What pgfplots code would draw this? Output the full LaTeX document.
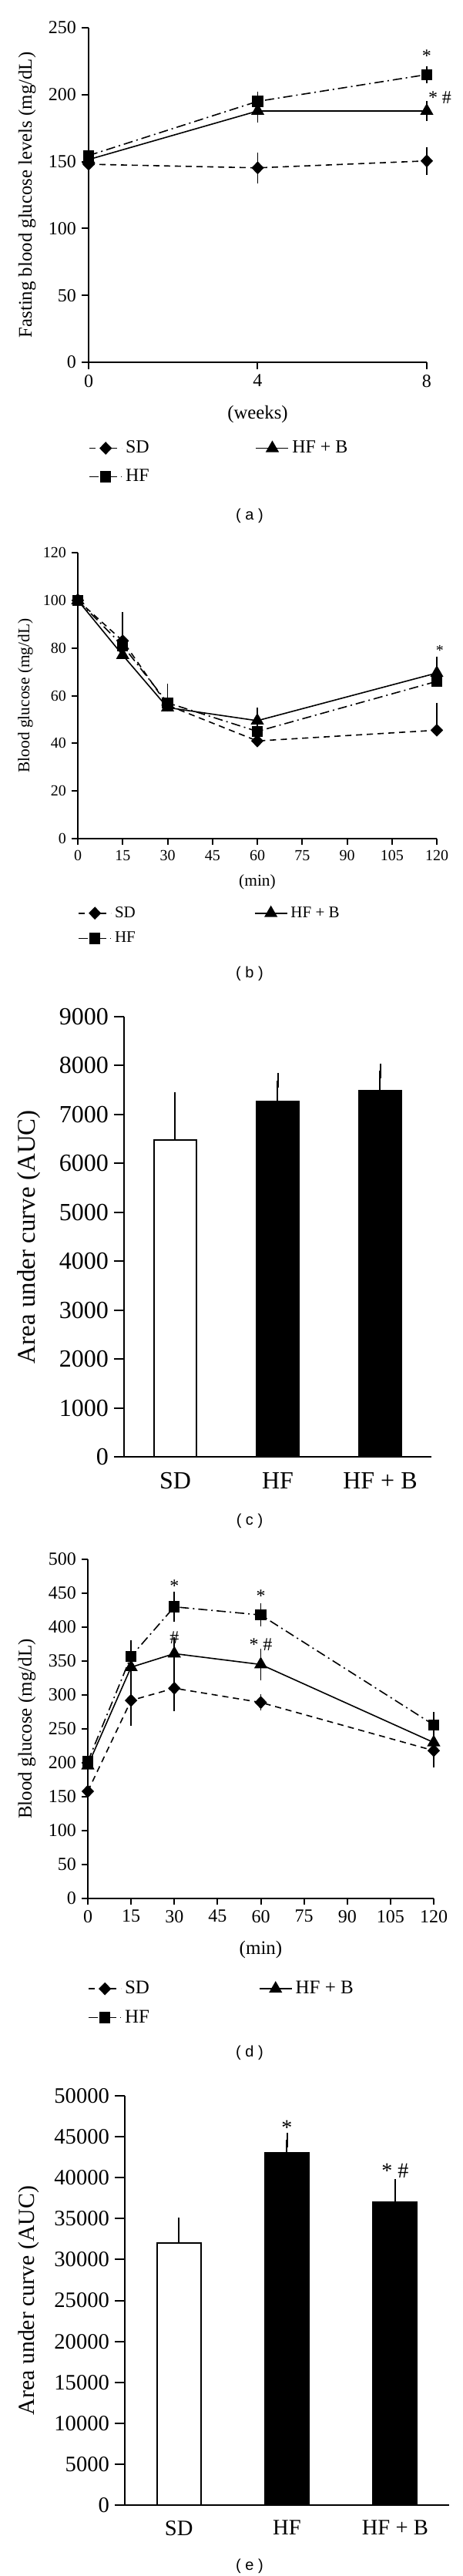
\documentclass[border=0pt]{standalone}
\usepackage{fontspec}
\setmainfont{Liberation Serif}
\newfontfamily\capfont{Liberation Sans}
\usepackage{pgfplots}
\pgfplotsset{compat=1.18}

% common look of the five panels (1 px of the reference = 0.5pt)
\newcommand\fs[1]{\fontsize{#1}{#1}\selectfont}
\pgfplotsset{
  panel/.style={
    scale only axis, anchor=south west,
    axis lines=left, axis line style={-, line width=1pt},
    enlargelimits=false, clip=false,
    tick align=outside, tick pos=left,
    major tick style={black, line width=1pt},
    /pgf/number format/assume math mode=true,
    /pgf/number format/1000 sep={},
    scaled y ticks=false,
    legend cell align=left,
    legend image code/.code={\draw[mark repeat=2, mark phase=2, ##1]
      plot coordinates {(0pt,0pt) (10.5pt,0pt) (21pt,0pt)};},
  },
  xlab/.style={every axis x label/.style={at={(axis description cs:0.5,#1)}, anchor=center}},
  ylab/.style={every axis y label/.style={at={(axis description cs:#1,0.5)}, anchor=center, rotate=90}},
  sd/.style={black, line width=0.8pt, dash pattern=on 4pt off 3pt,
    mark=diamond*, mark size=3.6pt, mark options={solid, xscale=1.3}},
  hf/.style={black, line width=0.8pt, dash pattern=on 6pt off 2.5pt on 1pt off 2.5pt,
    mark=square*, mark size=3.2pt, mark options={solid}},
  hfb/.style={black, line width=0.8pt, solid,
    mark=triangle*, mark size=4.2pt, mark options={solid}},
  eb/.style={error bars/y dir=#1, error bars/y explicit,
    error bars/error bar style={solid, line width=0.8pt},
    error bars/error mark options={solid, line width=0.8pt, mark size=3pt}},
  barerr/.style={error bars/y dir=plus, error bars/y explicit,
    error bars/error bar style={solid, line width=1pt},
    error bars/error mark options={solid, line width=1pt, mark size=4.8pt}},
}

\begin{document}
\begin{tikzpicture}
\useasboundingbox (0,0) rectangle (300pt,-1671pt);

% ---------- (a) fasting glucose over weeks
\begin{axis}[panel, at={(57.5pt,-235pt)}, width=219.5pt, height=217pt,
  xmin=0, xmax=8, ymin=0, ymax=250,
  xtick={0,4,8}, ytick={0,50,...,250},
  major tick length=4.5pt,
  tick label style={font=\fs{12}},
  xlabel={\fs{12.4}(weeks)}, ylabel={\fs{12.4}Fasting blood glucose levels (mg/dL)},
  xlab={-0.156}, ylab={-0.182},
  legend style={at={(axis description cs:0,-0.225)}, anchor=north west, draw=none,
    inner sep=0pt, font=\fs{12}, legend columns=2, row sep=5pt,
    /tikz/every even column/.append style={column sep=67pt}},
]
\addplot[sd, eb=both] coordinates {(0,148) +- (0,7) (4,145.3) +- (0,8) (8,150.5) +- (0,7)};
\addlegendentry{SD}
\addplot[hfb, eb=both] coordinates {(0,151.5) +- (0,4) (4,187.8) +- (0,5) (8,187.8) +- (0,4)};
\addlegendentry{HF + B}
\addplot[hf, eb=both] coordinates {(0,154.5) +- (0,4) (4,195) +- (0,4) (8,215) +- (0,3)};
\addlegendentry{HF}
\node[font=\fs{12}] at (axis cs:8,229) {*};
\node[font=\fs{12}] at (axis cs:8.31,198) {* \#};
\end{axis}

% ---------- (b) insulin tolerance
\begin{axis}[panel, at={(50.5pt,-544pt)}, width=233pt, height=185.5pt,
  xmin=0, xmax=120, ymin=0, ymax=120,
  xtick={0,15,...,120}, ytick={0,20,...,120},
  major tick length=4pt,
  tick label style={font=\fs{10}},
  xlabel={\fs{10.7}(min)}, ylabel={\fs{10.7}Blood glucose (mg/dL)},
  xlab={-0.151}, ylab={-0.1459},
  legend style={at={(axis description cs:0,-0.226)}, anchor=north west, draw=none,
    inner sep=0pt, font=\fs{10.5}, legend columns=2, row sep=4pt,
    /tikz/every even column/.append style={column sep=75pt}},
]
\addplot[sd, eb=plus] coordinates {(0,100) +- (0,0) (15,83) +- (0,10) (30,56) +- (0,4) (60,41) +- (0,1) (120,45.5) +- (0,9.6)};
\addlegendentry{SD}
\addplot[hfb, eb=plus] coordinates {(0,100) +- (0,0) (15,77) +- (0,3) (30,55) +- (0,2) (60,49.5) +- (0,3.4) (120,69.5) +- (0,5)};
\addlegendentry{HF + B}
\addplot[hf, eb=plus] coordinates {(0,100) +- (0,0) (15,81) +- (0,6) (30,57) +- (0,6) (60,45) +- (0,3) (120,66) +- (0,5)};
\addlegendentry{HF}
\node[font=\fs{10}] at (axis cs:121,79) {*};
\end{axis}

% ---------- (c) AUC of (b)
\begin{axis}[panel, at={(80.5pt,-945pt)}, width=199.5pt, height=285.5pt,
  xmin=-0.5, xmax=2.5, ymin=0, ymax=9000,
  xtick={0,1,2}, xticklabels={SD,HF,HF + B}, ytick={0,1000,...,9000},
  x tick style={draw=none}, major tick length=6.5pt,
  tick label style={font=\fs{16}},
  ylabel={\fs{16.5}Area under curve (AUC)}, ylab={-0.3083},
]
\addplot[ybar, bar width=27.5pt, bar shift=0pt, draw=black, line width=1pt, fill=white, barerr]
  coordinates {(0,6485) +- (0,815)};
\addplot[ybar, bar width=27.5pt, bar shift=0pt, draw=black, line width=1pt, fill=black, barerr]
  coordinates {(1,7260) +- (0,440) (2,7485) +- (0,410)};
\end{axis}

% ---------- (d) glucose tolerance
\begin{axis}[panel, at={(57pt,-1231.5pt)}, width=224.5pt, height=220pt,
  xmin=0, xmax=120, ymin=0, ymax=500,
  xtick={0,15,...,120}, ytick={0,50,...,500},
  major tick length=4pt,
  tick label style={font=\fs{12}},
  xlabel={\fs{12.5}(min)}, ylabel={\fs{12.5}Blood glucose (mg/dL)},
  xlab={-0.15}, ylab={-0.176},
  legend style={at={(axis description cs:0,-0.234)}, anchor=north west, draw=none,
    inner sep=0pt, font=\fs{12.5}, legend columns=2, row sep=5pt,
    /tikz/every even column/.append style={column sep=69pt}},
]
\addplot[sd, eb=both] coordinates {(0,158) +- (0,6) (15,292) +- (0,31) (30,310) +- (0,27) (60,289) +- (0,5) (120,218) +- (0,18)};
\addlegendentry{SD}
\addplot[hfb, eb=both] coordinates {(0,196) +- (0,5) (15,341) +- (0,16) (30,361) +- (0,17) (60,345) +- (0,16) (120,230) +- (0,10)};
\addlegendentry{HF + B}
\addplot[hf, eb=both] coordinates {(0,202) +- (0,5) (15,357) +- (0,17) (30,430) +- (0,15) (60,418) +- (0,10) (120,256) +- (0,12)};
\addlegendentry{HF}
\node[font=\fs{12}] at (axis cs:30,461) {*};
\node[font=\fs{12}] at (axis cs:60,446) {*};
\node[font=\fs{12}] at (axis cs:30,385) {\#};
\node[font=\fs{12}] at (axis cs:60,374) {* \#};
\end{axis}

% ---------- (e) AUC of (d)
\begin{axis}[panel, at={(81pt,-1625pt)}, width=210.5pt, height=265.5pt,
  xmin=-0.5, xmax=2.5, ymin=0, ymax=50000,
  xtick={0,1,2}, xticklabels={SD,HF,HF + B}, ytick={0,5000,...,50000},
  x tick style={draw=none}, major tick length=6.5pt,
  tick label style={font=\fs{14.3}},
  ylabel={\fs{14.9}Area under curve (AUC)}, ylab={-0.2969},
]
\addplot[ybar, bar width=28.5pt, bar shift=0pt, draw=black, line width=1pt, fill=white, barerr]
  coordinates {(0,32050) +- (0,2150)};
\addplot[ybar, bar width=28.5pt, bar shift=0pt, draw=black, line width=1pt, fill=black, barerr]
  coordinates {(1,43050) +- (0,1550) (2,37050) +- (0,1900)};
\node[font=\fs{14}] at (axis cs:1,46100) {*};
\node[font=\fs{14}] at (axis cs:2,40850) {* \#};
\end{axis}

% panel letters
\begin{scope}[every node/.style={font=\capfont\fs{10}}]
\node at (162pt,-334.5pt) {( a )};
\node at (162pt,-631.5pt) {( b )};
\node at (162pt,-986.5pt) {( c )};
\node at (162pt,-1331.5pt) {( d )};
\node at (162pt,-1664.5pt) {( e )};
\end{scope}
\end{tikzpicture}
\end{document}
